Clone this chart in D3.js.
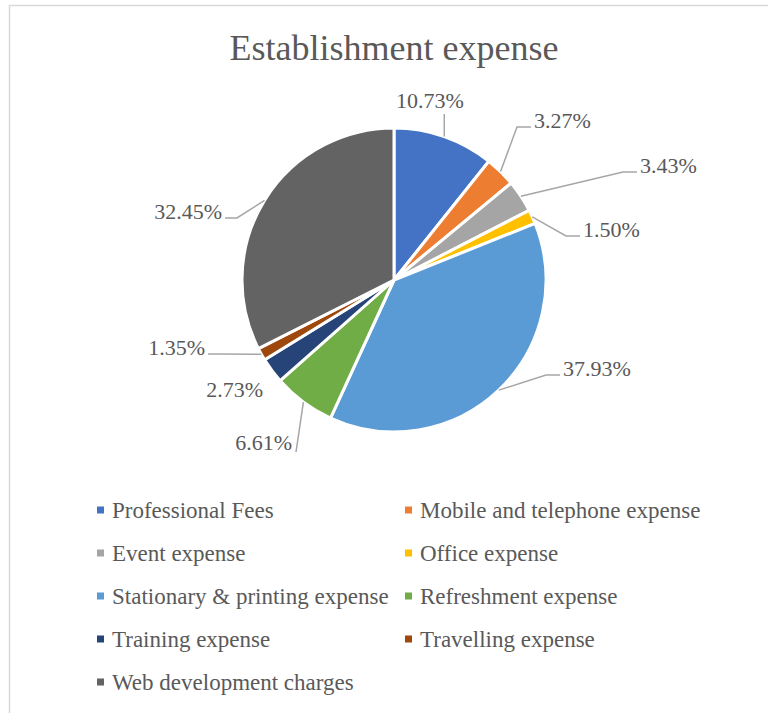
<!DOCTYPE html>
<html>
<head>
<meta charset="utf-8">
<script src="https://cdn.jsdelivr.net/npm/d3@7"></script>
<style>
  html, body { margin: 0; padding: 0; background: #ffffff; }
  svg { display: block; }
</style>
</head>
<body>
<script>
// ---- data ----
const title = "Establishment expense";
const categories = [
  "Professional Fees",
  "Mobile and telephone expense",
  "Event expense",
  "Office expense",
  "Stationary & printing expense",
  "Refreshment expense",
  "Training expense",
  "Travelling expense",
  "Web development charges"
];
const values = [10.73, 3.27, 3.43, 1.50, 37.93, 6.61, 2.73, 1.35, 32.45];
const colors = ["#4472C4", "#ED7D31", "#A5A5A5", "#FFC000", "#5B9BD5", "#70AD47", "#264478", "#9E480E", "#636363"];

// ---- layout (label placement, relative to pie centre: text anchor x, baseline y) ----
const labelLayout = [
  { dx: 36,  dy: -172, anchor: "middle", leader: "vertical" },
  { dx: 140, dy: -152, anchor: "start",  leader: "elbow" },
  { dx: 246, dy: -107, anchor: "start",  leader: "elbow" },
  { dx: 189, dy: -43,  anchor: "start",  leader: "elbow" },
  { dx: 169, dy: 96,   anchor: "start",  leader: "elbow" },
  { dx: -102, dy: 170, anchor: "end",    leader: "direct" },
  { dx: -131, dy: 117, anchor: "end",    leader: "none" },
  { dx: -189, dy: 75,  anchor: "end",    leader: "elbow" },
  { dx: -172, dy: -61, anchor: "end",    leader: "elbow" }
];

const FONT = "'Liberation Serif', 'Times New Roman', serif";
const TEXT_COLOR = "#595959";
const W = 768, H = 713;
const cx = 394, cy = 280, R = 152;

const svg = d3.select("body").append("svg")
  .attr("width", W).attr("height", H)
  .attr("font-family", FONT)
  .style("font-family", FONT);

// chart area border
svg.append("rect")
  .attr("x", 9.5).attr("y", 5.5)
  .attr("width", W + 20).attr("height", H + 20)
  .attr("fill", "#ffffff")
  .attr("stroke", "#D9D9D9").attr("stroke-width", 1.5);

// title
svg.append("text")
  .attr("x", 394).attr("y", 60)
  .attr("text-anchor", "middle")
  .attr("font-family", FONT)
  .attr("fill", TEXT_COLOR)
  .style("font-size", "36px")
  .text(title);

const data = categories.map((c, i) => ({ name: c, value: values[i], color: colors[i], layout: labelLayout[i] }));

const pie = d3.pie().value(d => d.value).sort(null);
const arcs = pie(data);
const arc = d3.arc().innerRadius(0).outerRadius(R);

const g = svg.append("g").attr("transform", `translate(${cx},${cy})`);

g.selectAll("path.slice")
  .data(arcs)
  .join("path")
  .attr("class", "slice")
  .attr("d", arc)
  .attr("fill", d => d.data.color)
  .attr("stroke", "#ffffff")
  .attr("stroke-width", 3)
  .attr("stroke-linejoin", "round");

// labels
const fmt = d3.format(".2f");
const fs = 22;

arcs.forEach(a => {
  const L = a.data.layout;
  const txt = fmt(a.data.value) + "%";
  const mid = (a.startAngle + a.endAngle) / 2;
  const ax = Math.sin(mid) * R, ay = -Math.cos(mid) * R;

  let pts = null;
  if (L.leader === "vertical") {
    pts = [[ax, ay], [ax, L.dy + 6]];
  } else if (L.leader === "elbow") {
    const ex = L.anchor === "start" ? L.dx - 3 : L.dx + 3;
    const ey = L.dy - 1;
    const bx = L.anchor === "start" ? ex - 14 : ex + 12;
    pts = [[ax, ay], [bx, ey], [ex, ey]];
  } else if (L.leader === "direct") {
    const ex = L.dx + 4, ey = L.dy + 2;
    pts = [[ax, ay], [ex, ey]];
  }
  if (pts) {
    g.append("path")
      .attr("d", d3.line()(pts))
      .attr("fill", "none")
      .attr("stroke", "#A6A6A6")
      .attr("stroke-width", 1.5);
  }
  g.append("text")
    .attr("x", L.dx).attr("y", L.dy)
    .attr("text-anchor", L.anchor)
    .attr("font-family", FONT)
    .attr("fill", TEXT_COLOR)
    .style("font-size", fs + "px")
    .text(txt);
});

// legend
const legendCols = [97, 405];
const legendRow0 = 518, legendRowStep = 43;
const lg = svg.append("g");
data.forEach((d, i) => {
  const col = i % 2, row = Math.floor(i / 2);
  const x = legendCols[col], y = legendRow0 + row * legendRowStep;
  lg.append("rect")
    .attr("x", x).attr("y", y - 11.5)
    .attr("width", 7).attr("height", 7)
    .attr("fill", d.color);
  lg.append("text")
    .attr("x", x + 15).attr("y", y)
    .attr("font-family", FONT)
    .attr("fill", TEXT_COLOR)
    .style("font-size", "23px")
    .text(d.name);
});
</script>
</body>
</html>
